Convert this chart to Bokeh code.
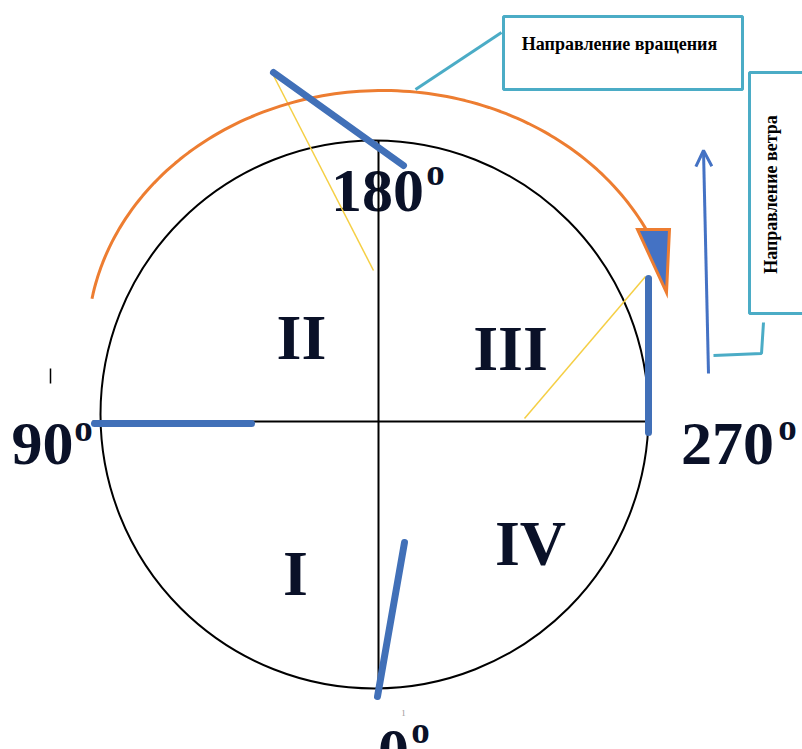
import numpy as np
from bokeh.plotting import figure
from bokeh.models import Range1d, Arrow, OpenHead
from bokeh.core.properties import value
from bokeh.embed import file_html
from bokeh.resources import INLINE

# ---- data (reference picture coordinates, y downward) ----
angle_labels = ["180", "90", "270", "0"]
angle_x = [377, 42, 727, 393]
angle_base = [190, 443, 443, 750]
deg_x = [435, 83, 787, 420]
deg_base = [172, 428, 427, 730]

quadrants = ["II", "III", "I", "IV"]
quad_x = [301, 510, 295, 530]
quad_base = [337, 348, 573, 543]

# wind-vane needles (start, end)
needle_x0 = [273, 94, 648, 404]
needle_y0 = [72, 423, 278, 542]
needle_x1 = [403, 251, 648, 377]
needle_y1 = [165, 423, 432, 696]

# thin yellow guides
guide_x0 = [273, 524]
guide_y0 = [75, 418]
guide_x1 = [373, 645]
guide_y1 = [270, 276]

circle_center = (374, 414)
circle_r = (274, 274)

box_titles = ["Направление вращения", "Направление ветра"]

BLUE = "#4472C4"
NEEDLE = "#4170B8"
ORANGE = "#ED7D31"
CYAN = "#4BACC6"
YELLOW = "#F5CF45"
INK = "#0A1128"
SERIF = value("Liberation Serif")

p = figure(width=802, height=749, output_backend="svg", toolbar_location=None,
           x_range=Range1d(0, 802), y_range=Range1d(749, 0),
           min_border=0, outline_line_color=None)
p.axis.visible = False
p.grid.visible = False
p.background_fill_color = "white"

# circle
p.ellipse(x=[circle_center[0]], y=[circle_center[1]], width=[2 * circle_r[0]],
          height=[2 * circle_r[1]], fill_alpha=0, line_color="black", line_width=2)

# text labels (drawn before lines so axes overlay them)
p.text(x=quad_x, y=quad_base, text=quadrants, text_font=SERIF, text_font_style="bold",
       text_font_size="64px", text_align="center", text_baseline="alphabetic",
       text_color=INK)
p.text(x=angle_x, y=angle_base, text=angle_labels, text_font=SERIF, text_font_style="bold",
       text_font_size="62px", text_align="center", text_baseline="alphabetic",
       text_color=INK)
p.text(x=deg_x, y=deg_base, text=["o"] * 4, text_font=SERIF, text_font_style="bold",
       text_font_size="37px", text_align="center", text_baseline="alphabetic",
       text_color=INK)
p.text(x=[403], y=[712], text=["1"], text_font=SERIF, text_font_size="9px",
       text_align="center", text_baseline="alphabetic", text_color="#9a9a9a")

# axes of the circle
p.line(x=[378, 378], y=[140, 690], line_color="black", line_width=2)
p.line(x=[92, 648], y=[421, 421], line_color="black", line_width=2)
p.line(x=[50, 50], y=[368, 383], line_color="black", line_width=1.5)

# yellow guides
p.segment(x0=guide_x0, y0=guide_y0, x1=guide_x1, y1=guide_y1,
          line_color=YELLOW, line_width=1.5)

# orange rotation arc
t = np.linspace(np.radians(170), np.radians(25), 120)
arc_cx, arc_cy, arc_rx, arc_ry = 382, 342, 295, 252
p.line(x=arc_cx + arc_rx * np.cos(t), y=arc_cy - arc_ry * np.sin(t),
       line_color=ORANGE, line_width=3)
p.patch(x=[637, 669, 666], y=[229, 229, 292], fill_color=BLUE,
        line_color=ORANGE, line_width=3, line_join="miter")

# needles
p.segment(x0=needle_x0, y0=needle_y0, x1=needle_x1, y1=needle_y1,
          line_color=NEEDLE, line_width=7, line_cap="round")

# callout boxes
p.quad(left=[503], right=[742], top=[16], bottom=[89], fill_color="white",
       line_color=CYAN, line_width=3)
p.line(x=[501, 415], y=[32, 89], line_color=CYAN, line_width=3)
p.text(x=[619], y=[43], text=[box_titles[0]], text_font=SERIF, text_font_style="bold",
       text_font_size="18px", text_align="center", text_baseline="middle",
       text_color="black")

p.quad(left=[749], right=[830], top=[72], bottom=[313], fill_color="white",
       line_color=CYAN, line_width=3)
p.line(x=[763, 761, 713], y=[322, 353, 355], line_color=CYAN, line_width=3)
p.text(x=[770], y=[194], text=[box_titles[1]], text_font=SERIF, text_font_style="bold",
       text_font_size="18px", text_align="center", text_baseline="middle",
       text_color="black", angle=np.pi / 2)

# wind arrow
p.add_layout(Arrow(end=OpenHead(size=16, line_color=BLUE, line_width=3),
                   x_start=708, y_start=373, x_end=703, y_end=150,
                   line_color=BLUE, line_width=3))

open("out.html", "w").write(file_html(p, INLINE))
